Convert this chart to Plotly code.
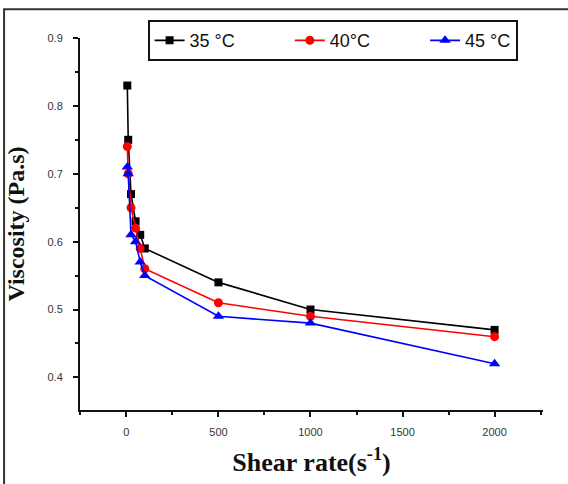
import plotly.graph_objects as go

# Shear rate (s^-1) at which viscosity was measured
shear_rate = [5, 10, 25, 50, 75, 100, 500, 1000, 2000]

# Viscosity (Pa.s) at each temperature
visc_35 = [0.83, 0.75, 0.67, 0.63, 0.61, 0.59, 0.54, 0.50, 0.47]
visc_40 = [0.74, 0.70, 0.65, 0.62, 0.59, 0.56, 0.51, 0.49, 0.46]
visc_45 = [0.71, 0.70, 0.61, 0.60, 0.57, 0.55, 0.49, 0.48, 0.42]

series_names = ["35 °C", "40°C", "45 °C"]

x_ticks = [0, 500, 1000, 1500, 2000]
y_ticks = [0.4, 0.5, 0.6, 0.7, 0.8, 0.9]

fig = go.Figure()

styles = [
    ("#000000", "square", 8),
    ("#ff0000", "circle", 9),
    ("#0000ff", "triangle-up", 10),
]

# non-breaking spaces widen the gap between horizontal legend entries
pads = ["\u00a0" * 10, "\u00a0" * 10, ""]

for name, pad, vals, (color, symbol, size) in zip(series_names, pads, [visc_35, visc_40, visc_45], styles):
    fig.add_trace(go.Scatter(
        x=shear_rate, y=vals, name=name + pad,
        mode="lines+markers",
        line=dict(color=color, width=1.6),
        marker=dict(color=color, symbol=symbol, size=size),
    ))

tick_font = dict(family="Arial, Liberation Sans, sans-serif", size=11, color="#333333")
title_font = dict(family="Liberation Serif, Times New Roman, serif", color="#111111")

fig.update_layout(
    width=568, height=484,
    margin=dict(l=80, r=25, t=38, b=72),
    paper_bgcolor="white",
    plot_bgcolor="white",
    showlegend=True,
    legend=dict(
        orientation="h",
        x=0.146, y=1.048, xanchor="left", yanchor="top",
        bordercolor="#111111", borderwidth=2,
        bgcolor="white",
        font=dict(family="Arial, Liberation Sans, sans-serif", size=18, color="#111111"),
        itemwidth=30,
        tracegroupgap=0,
    ),
    xaxis=dict(
        range=[-252, 2263],
        tickvals=x_ticks,
        ticks="outside", ticklen=5, tickwidth=2, tickcolor="#111111",
        minor=dict(dtick=250, tick0=0, ticks="outside", ticklen=3, tickwidth=2, tickcolor="#111111"),
        showline=True, linecolor="#111111", linewidth=2,
        showgrid=False, zeroline=False,
        tickfont=tick_font,
        ticklabelstandoff=6,
        title=dict(text="<b>Shear rate(s<sup>-1</sup>)</b>", font=dict(size=26, **title_font), standoff=16),
    ),
    yaxis=dict(
        range=[0.352, 0.9],
        tickvals=y_ticks,
        ticktext=[f"{v:.1f}" for v in y_ticks],
        ticks="outside", ticklen=5, tickwidth=2, tickcolor="#111111",
        minor=dict(dtick=0.05, tick0=0.35, ticks="outside", ticklen=3, tickwidth=2, tickcolor="#111111"),
        showline=True, linecolor="#111111", linewidth=2,
        showgrid=False, zeroline=False,
        tickfont=tick_font,
        ticklabelstandoff=8,
        title=dict(text="<b>Viscosity (Pa.s)</b>", font=dict(size=24, **title_font), standoff=16),
    ),
)

# Frame around the whole figure
fig.add_shape(
    type="rect", xref="paper", yref="paper",
    x0=-0.164, x1=1.2, y0=-0.3, y1=1.0775,
    line=dict(color="#333333", width=2), layer="below",
)

fig.write_html("out.html")
